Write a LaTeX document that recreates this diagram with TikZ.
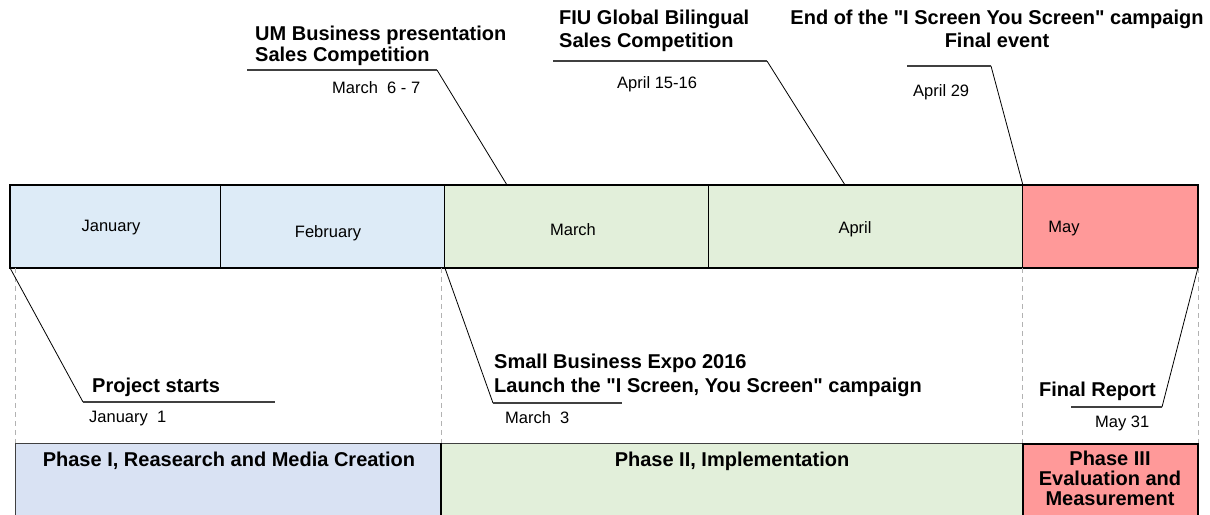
\documentclass[tikz,border=0pt]{standalone}
\usepackage{fontspec}
\setmainfont{Liberation Sans}
% same family without the TeX ligature mapping, for straight quotes
\newfontfamily\plainsans{Liberation Sans}
\definecolor{winter}{HTML}{DDEBF7}
\definecolor{spring}{HTML}{E2EFDA}
\definecolor{closing}{HTML}{FF9999}
\definecolor{phaseone}{HTML}{D9E2F3}
\newcommand{\dq}{{\plainsans\symbol{34}}}
\begin{document}
\begin{tikzpicture}[x=1pt,y=-1pt,
  cell/.style={draw=black, line width=0.9pt, inner sep=0pt, anchor=north west, minimum height=82pt},
  phasebox/.style={draw=black!75, line width=1.2pt, inner sep=0pt, anchor=north west, minimum height=100pt},
  month/.style={font=\fontsize{16.5}{19}\selectfont, inner sep=0pt, anchor=base},
  evt/.style={font=\bfseries\fontsize{20}{22}\selectfont, inner sep=0pt, anchor=base west},
  evtc/.style={evt, anchor=base},
  when/.style={font=\fontsize{16.5}{19}\selectfont, inner sep=0pt, anchor=base west},
  lead/.style={draw=black, line width=0.8pt},
  shelf/.style={draw=black!75, line width=1.4pt},
  guide/.style={draw=black!30, line width=0.8pt, dash pattern=on 5pt off 4pt}]
\useasboundingbox (0,0) rectangle (1210,514);
\clip (0,0) rectangle (1210,514);

% month bar
\node[cell, fill=winter,  minimum width=210pt] (jan) at (10,185) {};
\node[cell, fill=winter,  minimum width=224pt] (feb) at (220,185) {};
\node[cell, fill=spring,  minimum width=264pt] (mar) at (444,185) {};
\node[cell, fill=spring,  minimum width=314pt] (apr) at (708,185) {};
\node[cell, fill=closing, minimum width=175pt] (may) at (1022,185) {};
\draw[line width=2pt] (jan.north west) rectangle (may.south east);

\node[month] (tjan) at (111,231) {January};
\node[month] (tfeb) at (328,237) {February};
\node[month] (tmar) at (573,235) {March};
\node[month] (tapr) at (855,233) {April};
\node[month] (tmay) at (1064,232) {May};

% phase boxes
\node[phasebox, fill=phaseone, minimum width=426pt] (ph1) at (15,443) {};
\node[phasebox, fill=spring, minimum width=581pt] (ph2) at (441,443) {};
\node[phasebox, fill=closing, draw=black, line width=1.6pt, minimum width=175pt] (ph3) at (1022,443) {};
\draw[line width=2.2pt] (ph2.north west) -- (ph2.south west);

\node[evtc] (p1) at (229,466) {Phase I, Reasearch and Media Creation};
\node[evtc] (p2) at (732,466) {Phase II, Implementation};
\node[evtc] (p3a) at (1110,465) {Phase III};
\node[evtc] (p3b) at (1110,485) {Evaluation and};
\node[evtc] (p3c) at (1110,505) {Measurement};

% dashed guides between bar and phases
\draw[guide] (ph1.north west |- jan.south) -- (ph1.north west);
\draw[guide] (ph2.north west |- feb.south) -- (ph2.north west);
\draw[guide] (ph3.north west |- may.south) -- (ph3.north west);
\draw[guide] (ph3.north east |- may.south) -- (ph3.north east);

% milestones below the bar
\coordinate (k1) at (83,402);  \coordinate (k1e) at (275,402);
\draw[lead] (jan.south west) -- (k1);
\draw[shelf] (k1) -- (k1e);
\node[evt] (m1) at (92,392) {Project starts};
\node[when] (d1) at (89,422) {January\ \ 1};

\coordinate (k2) at (493,403); \coordinate (k2e) at (622,403);
\draw[lead] (feb.south east) -- (k2);
\draw[shelf] (k2) -- (k2e);
\node[evt] (m2a) at (494,368) {Small Business Expo 2016};
\node[evt] (m2b) at (494,392) {Launch the \dq I Screen, You Screen\dq\ campaign};
\node[when] (d2) at (505,423) {March\ \ 3};

\coordinate (k3) at (1162,407); \coordinate (k3e) at (1071,407);
\draw[lead] (may.south east) -- (k3);
\draw[shelf] (k3) -- (k3e);
\node[evt] (m3) at (1039,396) {Final Report};
\node[when] (d3) at (1095,427) {May 31};

% milestones above the bar
\coordinate (a4) at (507,185); \coordinate (k4) at (437,70); \coordinate (k4e) at (247,70);
\draw[lead] (a4) -- (k4);
\draw[shelf] (k4) -- (k4e);
\node[evt] (m4a) at (255,40) {UM Business presentation};
\node[evt] (m4b) at (255,61) {Sales Competition};
\node[when] (d4) at (332,93) {March\ \ 6 - 7};

\coordinate (a5) at (845,185); \coordinate (k5) at (767,61); \coordinate (k5e) at (553,61);
\draw[lead] (a5) -- (k5);
\draw[shelf] (k5) -- (k5e);
\node[evt] (m5a) at (559,24) {FIU Global Bilingual};
\node[evt] (m5b) at (559,47) {Sales Competition};
\node[when] (d5) at (617,88) {April 15-16};

\coordinate (k6) at (991,66); \coordinate (k6e) at (907,66);
\draw[lead] (apr.north east) -- (k6);
\draw[shelf] (k6) -- (k6e);
\node[evtc] (m6a) at (997,24) {End of the \dq I Screen You Screen\dq\ campaign};
\node[evtc] (m6b) at (997,47) {Final event};
\node[when] (d6) at (913,96) {April 29};
\end{tikzpicture}
\end{document}
